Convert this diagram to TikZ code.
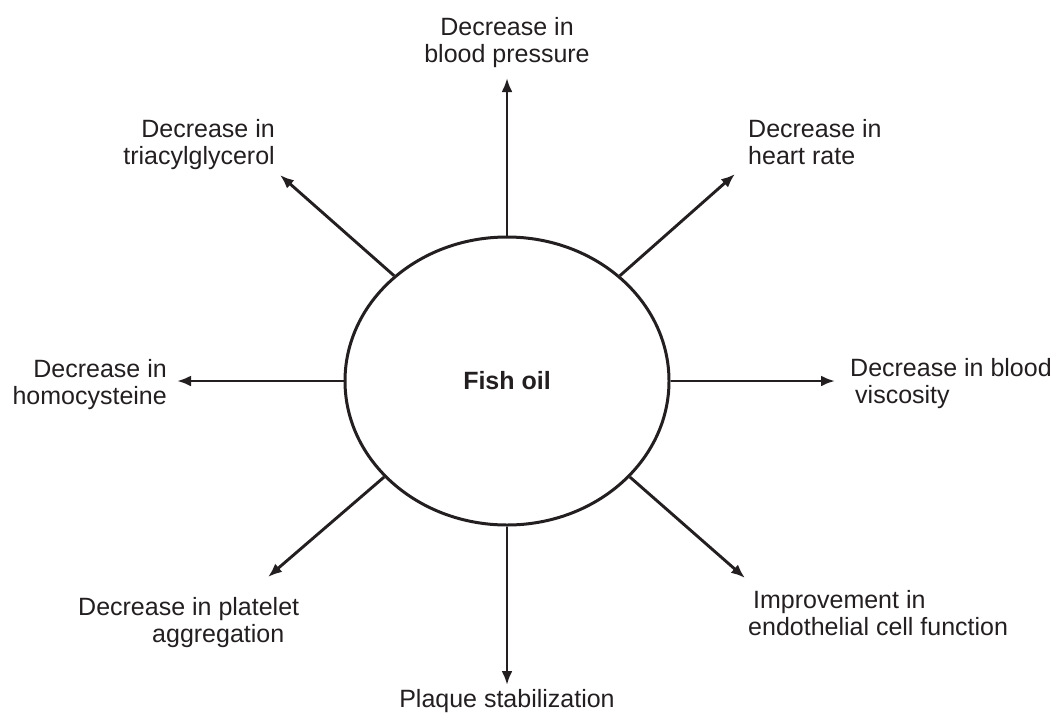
\documentclass[tikz,border=0pt]{standalone}
\usepackage{fontspec}
\setmainfont{Liberation Sans}
\usetikzlibrary{shapes.geometric,arrows.meta}
\definecolor{ink}{HTML}{231F20}
\tikzset{
  lbl/.style={inner sep=0pt, text=ink, font=\fontsize{25}{27}\selectfont},
  arr/.style={line width=2.9pt, draw=ink, -{Latex[length=14pt,width=11pt]}},
  hub/.style={draw=ink, line width=3pt, ellipse, minimum width=324pt, minimum height=288pt, inner sep=0pt, text=ink, font=\fontsize{25}{27}\selectfont\bfseries}
}
\begin{document}
\begin{tikzpicture}[x=1pt,y=-1pt]
\useasboundingbox (0,0) rectangle (1056,718);
\node[hub] (c) at (507,381) {Fish oil};
% arrow tips
\coordinate (tbp) at (507,78);
\coordinate (thr) at (735,174);
\coordinate (tvi) at (835,381);
\coordinate (tie) at (745,578);
\coordinate (tps) at (507,685);
\coordinate (tpa) at (268,577);
\coordinate (tho) at (177,381);
\coordinate (ttg) at (280,175);
% connectors
\draw[arr] (c.north) -- (tbp);
\draw[arr] (c.43) -- (thr);
\draw[arr] (c.east) -- (tvi);
\draw[arr] (c.322) -- (tie);
\draw[arr] (c.south) -- (tps);
\draw[arr] (c.218) -- (tpa);
\draw[arr] (c.west) -- (tho);
\draw[arr] (c.137) -- (ttg);
% labels
\node[lbl, anchor=north, align=center] (bp) at (507,17) {Decrease in\\blood pressure};
\node[lbl, anchor=north west, align=left] (hr) at (748,119) {Decrease in\\heart rate};
\node[lbl, anchor=north west, align=left] (vi) at (850,358) {Decrease in blood\\\hspace*{5pt}viscosity};
\node[lbl, anchor=north west, align=left] (ie) at (748,590) {\hspace*{5pt}Improvement in\\endothelial cell function};
\node[lbl, anchor=north, align=center] (ps) at (507,689) {Plaque stabilization};
\node[lbl, anchor=north west, align=left] (pa) at (78,597) {Decrease in platelet\\\hspace*{74pt}aggregation};
\node[lbl, anchor=north east, align=right] (ho) at (167,359) {Decrease in\\homocysteine};
\node[lbl, anchor=north east, align=right] (tg) at (275,119) {Decrease in\\triacylglycerol};
\end{tikzpicture}
\end{document}
